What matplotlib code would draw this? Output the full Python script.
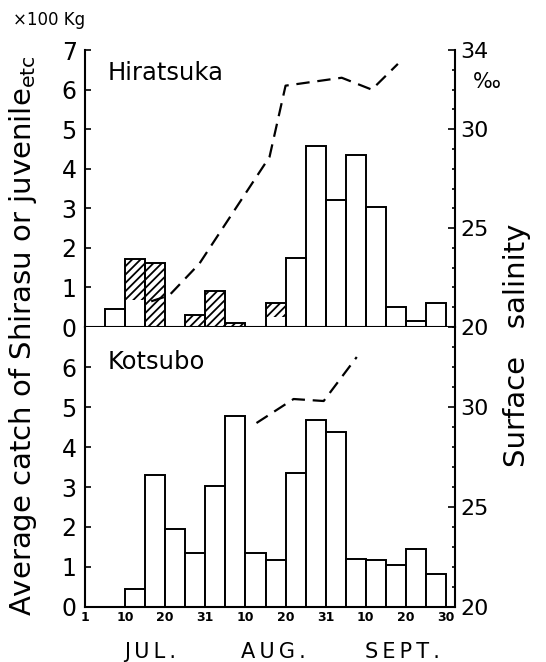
import numpy as np
import matplotlib.pyplot as plt
from matplotlib.ticker import MultipleLocator, FixedLocator

# x axis is in pentads (half-dekads) from 1 Jul to 30 Sept
pentad = np.arange(18)
tick_pos = [0, 2, 4, 6, 8, 10, 12, 14, 16, 18]
tick_labels = ['1', '10', '20', '31', '10', '20', '31', '10', '20', '30']
months = ['J\u2009U\u2009L\u2009.', 'A\u2009U\u2009G\u2009.', 'S\u2009E\u2009P\u2009T\u2009.']
month_pos = [3.24, 9.37, 15.85]

# Hiratsuka catch (x100 kg): open part and hatched part stacked on top
hira_open = [0, 0.45, 0.68, 0, 0, 0, 0, 0, 0, 0.26, 1.75, 4.58, 3.22, 4.34, 3.04, 0.50, 0.14, 0.61]
hira_hatch = [0, 0, 1.04, 1.63, 0, 0.30, 0.90, 0.10, 0, 0.35, 0, 0, 0, 0, 0, 0, 0, 0]

# Kotsubo catch (x100 kg)
kotsubo = [0, 0, 0.45, 3.30, 1.95, 1.35, 3.02, 4.77, 1.35, 1.17, 3.35, 4.67, 4.38, 1.19, 1.17, 1.04, 1.44, 0.82]

# surface salinity (per mille)
hira_sal_x = [3.3, 4.2, 5.7, 9.2, 10.0, 12.8, 14.3, 15.6]
hira_sal = [21.3, 21.6, 23.2, 28.6, 32.2, 32.6, 32.0, 33.3]
kotsubo_sal_x = [8.55, 10.4, 11.9, 13.55]
kotsubo_sal = [29.2, 30.4, 30.3, 32.5]

plt.rcParams['font.family'] = ['DejaVu Sans']
plt.rcParams['hatch.linewidth'] = 1.3

fig = plt.figure(figsize=(5.46, 6.62), dpi=100)
ax1 = fig.add_axes([0.1557, 0.5060, 0.6777, 0.4184])
ax2 = fig.add_axes([0.1557, 0.0831, 0.6777, 0.4229])

lw = 1.4
x = pentad + 0.5

# top panel
tot = np.array(hira_open) + np.array(hira_hatch)
ax1.bar(x, hira_hatch, bottom=hira_open, width=1, facecolor='white',
        edgecolor='black', hatch='////', linewidth=0)
ax1.bar(x, tot, width=1, fill=False, edgecolor='black', linewidth=lw)
ax1.text(0.062, 0.917, 'Hiratsuka', transform=ax1.transAxes, fontsize=17.5,
         ha='left', va='center')

# bottom panel
ax2.bar(x, kotsubo, width=1, facecolor='white', edgecolor='black', linewidth=lw)
ax2.text(0.062, 0.875, 'Kotsubo', transform=ax2.transAxes, fontsize=17.5,
         ha='left', va='center')

for ax in (ax1, ax2):
    ax.set_xlim(0, 18.45)
    ax.set_ylim(0, 7)
    ax.spines['top'].set_visible(False)
    ax.spines['right'].set_visible(False)
    for s in ('left', 'bottom'):
        ax.spines[s].set_linewidth(1.5)
    ax.tick_params(axis='y', direction='in', length=4, width=1.2, pad=6, labelsize=17)

ax1.set_yticks(range(0, 8))
ax1.set_xticks([])
ax2.set_yticks(range(0, 7))
ax2.set_xticks(tick_pos)
ax2.set_xticklabels(tick_labels, fontsize=9, fontweight='bold',
                    family=['Liberation Sans Narrow', 'DejaVu Sans'])
ax2.tick_params(axis='x', length=0, pad=3)

for xm, m in zip(month_pos, months):
    ax2.text(xm, -0.16, m, transform=ax2.get_xaxis_transform(), fontsize=15,
             ha='center', va='center')

# salinity on right axes
for ax, sx, sy, ticks in ((ax1, hira_sal_x, hira_sal, [20, 25, 30, 34]),
                          (ax2, kotsubo_sal_x, kotsubo_sal, [20, 25, 30])):
    axr = ax.twinx()
    axr.set_ylim(20, 34)
    axr.plot(sx, sy, color='black', linewidth=1.6, linestyle=(0, (6, 3.5)))
    axr.spines['top'].set_visible(False)
    axr.spines['left'].set_visible(False)
    axr.spines['bottom'].set_visible(False)
    axr.spines['right'].set_linewidth(1.5)
    axr.yaxis.set_major_locator(FixedLocator(ticks))
    axr.yaxis.set_minor_locator(MultipleLocator(1))
    axr.tick_params(axis='y', which='major', direction='in', length=5, width=1.2,
                    pad=4, labelsize=16)
    axr.tick_params(axis='y', which='minor', direction='in', length=2.5, width=1.2)

fig.text(487 / 546, 1 - 82 / 662, '\u2030', fontsize=15, ha='center', va='center')
fig.text(13 / 546, 1 - 20 / 662, '\u00d7100 Kg', fontsize=12, ha='left', va='center')
fig.text(23 / 546, 1 - 336 / 662,
         r'Average catch of Shirasu or juvenile$_{\mathrm{etc}}$',
         rotation=90, fontsize=21, ha='center', va='center')
fig.text(517 / 546, 1 - 345 / 662, 'Surface   salinity', rotation=90, fontsize=21,
         ha='center', va='center')

fig.savefig('out.png', dpi=100)
